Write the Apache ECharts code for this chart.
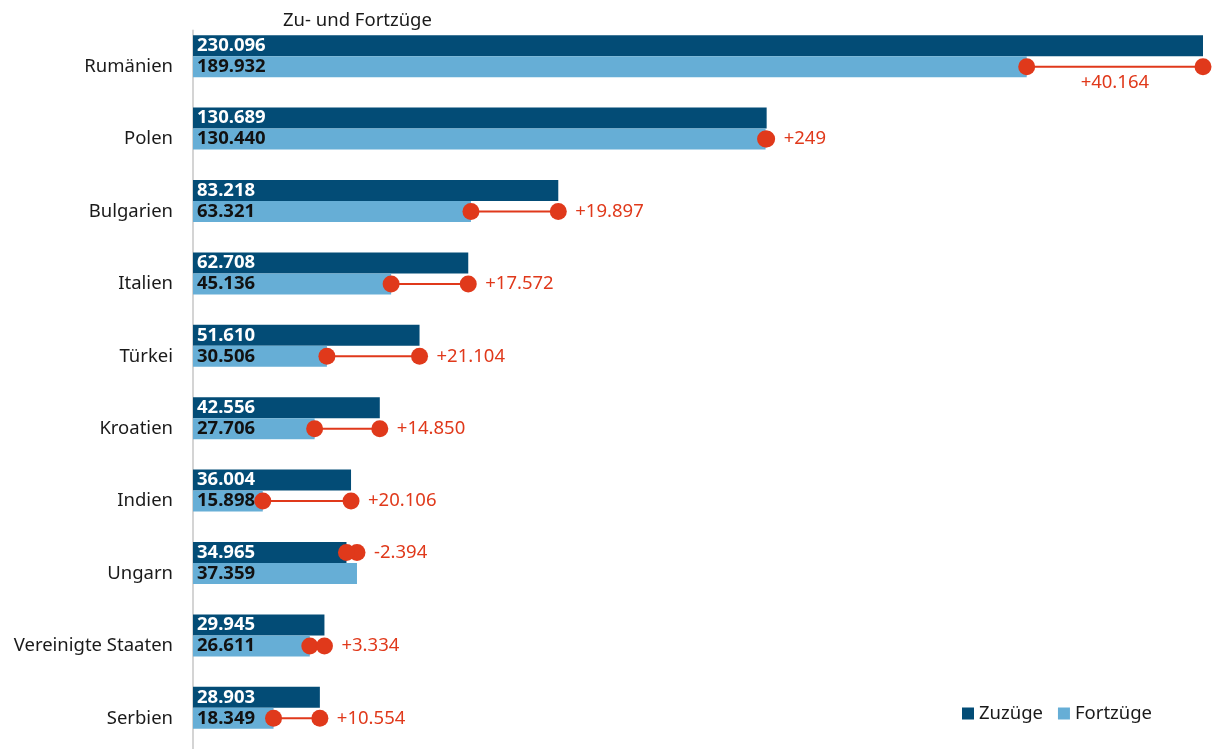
<!DOCTYPE html>
<html>
<head>
<meta charset="utf-8">
<script src="https://cdn.jsdelivr.net/npm/echarts@6/dist/echarts.min.js"></script>
<style>
html,body{margin:0;padding:0;background:#fff;overflow:hidden;}
#chart{width:1212px;height:760px;}
</style>
</head>
<body>
<div id="chart"></div>
<script>
var categories = ['Rumänien','Polen','Bulgarien','Italien','Türkei','Kroatien','Indien','Ungarn','Vereinigte Staaten','Serbien'];
var zuzuege = [230096,130689,83218,62708,51610,42556,36004,34965,29945,28903];
var fortzuege = [189932,130440,63321,45136,30506,27706,15898,37359,26611,18349];
var axisMax = 230096;

var FONT = '"Noto Sans", "DejaVu Sans", sans-serif';
var RED = '#e0391b';
var BAR_W = 21;

function fmt(v){
  return String(Math.abs(v)).replace(/\B(?=(\d{3})+(?!\d))/g, '.');
}
function fmtDiff(v){
  return (v >= 0 ? '+' : '-') + fmt(v);
}

var dumbbellData = categories.map(function(c, i){
  return [i, zuzuege[i], fortzuege[i], zuzuege[i] - fortzuege[i]];
});

var chart = echarts.init(document.getElementById('chart'), null, {renderer:'canvas'});
chart.setOption({
  animation: false,
  backgroundColor: '#fff',
  title: {
    text: 'Zu- und Fortzüge',
    left: 278, top: 6,
    textStyle: {fontFamily: FONT, fontSize: 18.5, fontWeight: 'normal', color: '#1a1a1a'}
  },
  legend: {
    data: ['Zuzüge','Fortzüge'],
    right: 55, top: 699,
    icon: 'rect', itemWidth: 12, itemHeight: 12, itemGap: 15,
    textStyle: {fontFamily: FONT, fontSize: 18.5, color: '#1a1a1a'}
  },
  grid: {left: 193, right: 9, top: 30.5, height: 724, containLabel: false},
  xAxis: {
    type: 'value', min: 0, max: axisMax, show: false
  },
  yAxis: {
    type: 'category', data: categories, inverse: true,
    axisLine: {show: true, lineStyle: {color: '#d4d4d4', width: 2}},
    axisTick: {show: false},
    splitLine: {show: false},
    axisLabel: {fontFamily: FONT, fontSize: 18.5, color: '#1a1a1a', margin: 20}
  },
  series: [
    {
      name: 'Zuzüge', type: 'bar', data: zuzuege, barWidth: BAR_W, barGap: '0%',
      itemStyle: {color: '#034c76'},
      label: {show: true, position: 'insideLeft', distance: 4, fontFamily: FONT, fontSize: 18.5, fontWeight: 'bold', color: '#fff',
        formatter: function(p){ return fmt(p.value); }}
    },
    {
      name: 'Fortzüge', type: 'bar', data: fortzuege, barWidth: BAR_W, barGap: '0%',
      itemStyle: {color: '#66aed6'},
      label: {show: true, position: 'insideLeft', distance: 4, fontFamily: FONT, fontSize: 18.5, fontWeight: 'bold', color: '#111',
        formatter: function(p){ return fmt(p.value); }}
    },
    {
      name: '_spacer', type: 'bar', data: categories.map(function(){return 0;}), barWidth: BAR_W, barGap: '0%',
      itemStyle: {color: 'rgba(0,0,0,0)'}, silent: true
    },
    {
      name: 'diff', type: 'custom', encode: {x: [1,2], y: 0}, z: 10,
      data: dumbbellData,
      renderItem: function(params, api){
        var idx = api.value(0), zu = api.value(1), fo = api.value(2), d = api.value(3);
        var pZu = api.coord([zu, idx]);
        var pFo = api.coord([fo, idx]);
        var y = pFo[1] + (d < 0 ? -BAR_W : 0);
        var x1 = Math.min(pZu[0], pFo[0]), x2 = Math.max(pZu[0], pFo[0]);
        var r = 8.5;
        var children = [
          {type:'line', shape:{x1:x1, y1:y, x2:x2, y2:y}, style:{stroke:RED, lineWidth:2}},
          {type:'circle', shape:{cx:pFo[0], cy:y, r:r}, style:{fill:RED}},
          {type:'circle', shape:{cx:pZu[0], cy:y, r:r}, style:{fill:RED}}
        ];
        var text = fmtDiff(d);
        var right = params.coordSys.x + params.coordSys.width;
        if (x2 + 90 > right) {
          children.push({type:'text', style:{text:text, x:(x1+x2)/2, y:y+7, align:'center', verticalAlign:'top', fill:RED, font:'18.5px ' + FONT}});
        } else {
          children.push({type:'text', style:{text:text, x:x2+17, y:y, align:'left', verticalAlign:'middle', fill:RED, font:'18.5px ' + FONT}});
        }
        return {type:'group', children: children};
      }
    }
  ]
});
</script>
</body>
</html>
